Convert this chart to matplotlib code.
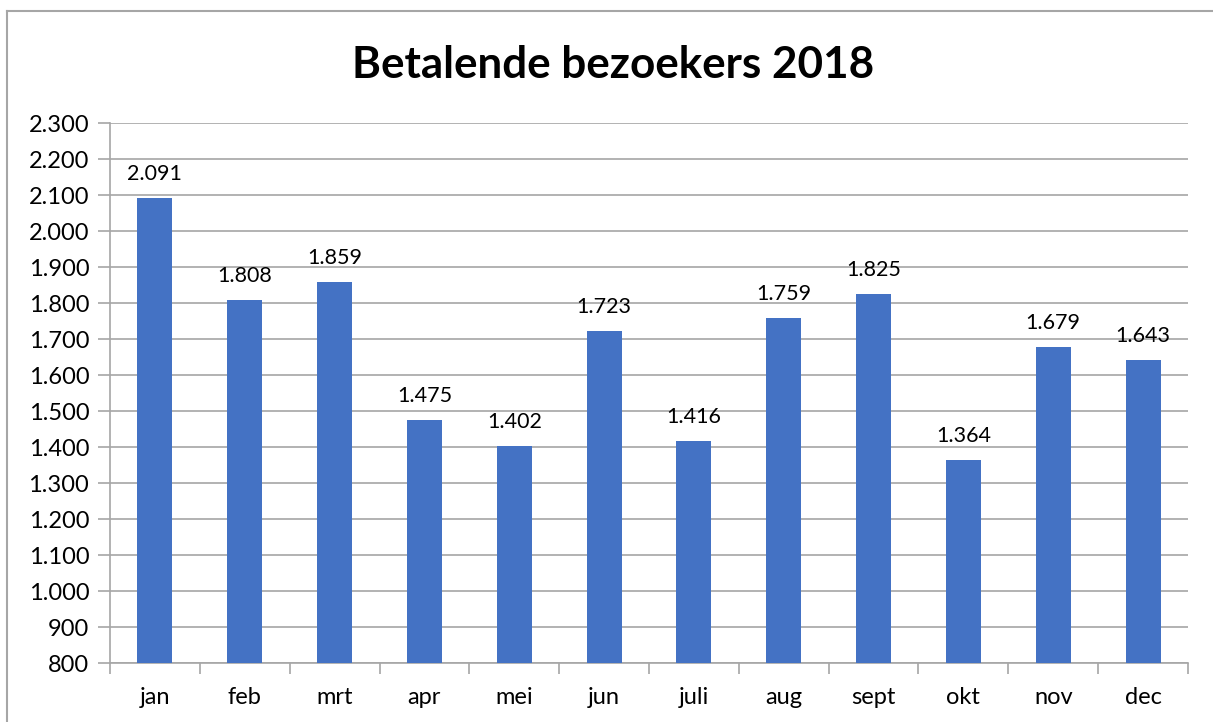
import matplotlib
matplotlib.use("Agg")
import matplotlib.pyplot as plt
from matplotlib.lines import Line2D
from matplotlib.ticker import FuncFormatter, MultipleLocator

plt.rcParams['font.family'] = ['Lato', 'DejaVu Sans']

# data
months = ['jan', 'feb', 'mrt', 'apr', 'mei', 'jun', 'juli', 'aug', 'sept', 'okt', 'nov', 'dec']
visitors = [2091, 1808, 1859, 1475, 1402, 1723, 1416, 1759, 1825, 1364, 1679, 1643]


def nl(v):
    return f"{int(round(v)):,}".replace(',', '.')


W, H = 1213, 722
fig = plt.figure(figsize=(W / 100, H / 100), dpi=100)
ax = fig.add_axes([110 / W, 1 - 663 / H, 1078 / W, 540 / H])

grey = '#a6a6a6'
x = range(len(months))
bars = ax.bar(x, [v - 800 for v in visitors], bottom=800, width=0.39,
              color='#4472c4', zorder=3)

for xi, v in zip(x, visitors):
    ax.annotate(nl(v), (xi, v), xytext=(0, 10), textcoords='offset points',
                ha='center', va='bottom', fontsize=15.5)

ax.set_xlim(-0.5, len(months) - 0.5)
ax.set_ylim(800, 2300)
ax.yaxis.set_major_locator(MultipleLocator(100))
ax.yaxis.set_major_formatter(FuncFormatter(lambda v, p: nl(v)))
ax.grid(axis='y', color=grey, linewidth=1.2, zorder=0)

ax.set_xticks([i - 0.5 for i in range(len(months) + 1)], minor=False)
ax.set_xticklabels([])
ax.set_xticks(list(x), minor=True)
ax.set_xticklabels(months, minor=True, fontsize=17)
ax.tick_params(axis='x', which='major', length=8, color=grey, width=1.2)
ax.tick_params(axis='x', which='minor', length=0, pad=17)
ax.tick_params(axis='y', length=9, color=grey, width=1.2, labelsize=17, pad=6)

for s in ['top', 'right']:
    ax.spines[s].set_visible(False)
for s in ['left', 'bottom']:
    ax.spines[s].set_color(grey)
    ax.spines[s].set_linewidth(1.2)

fig.text(613 / W, 1 - 65 / H, 'Betalende bezoekers 2018', ha='center', va='center',
         fontsize=31.7, fontweight='bold')

# chart border (cut off at right and bottom)
fig.add_artist(Line2D([7 / W, 7 / W], [0, 1 - 11 / H], transform=fig.transFigure,
                      color=grey, linewidth=1.5))
fig.add_artist(Line2D([7 / W, 1], [1 - 11 / H, 1 - 11 / H], transform=fig.transFigure,
                      color=grey, linewidth=1.5))

fig.savefig('out.png', dpi=100)
